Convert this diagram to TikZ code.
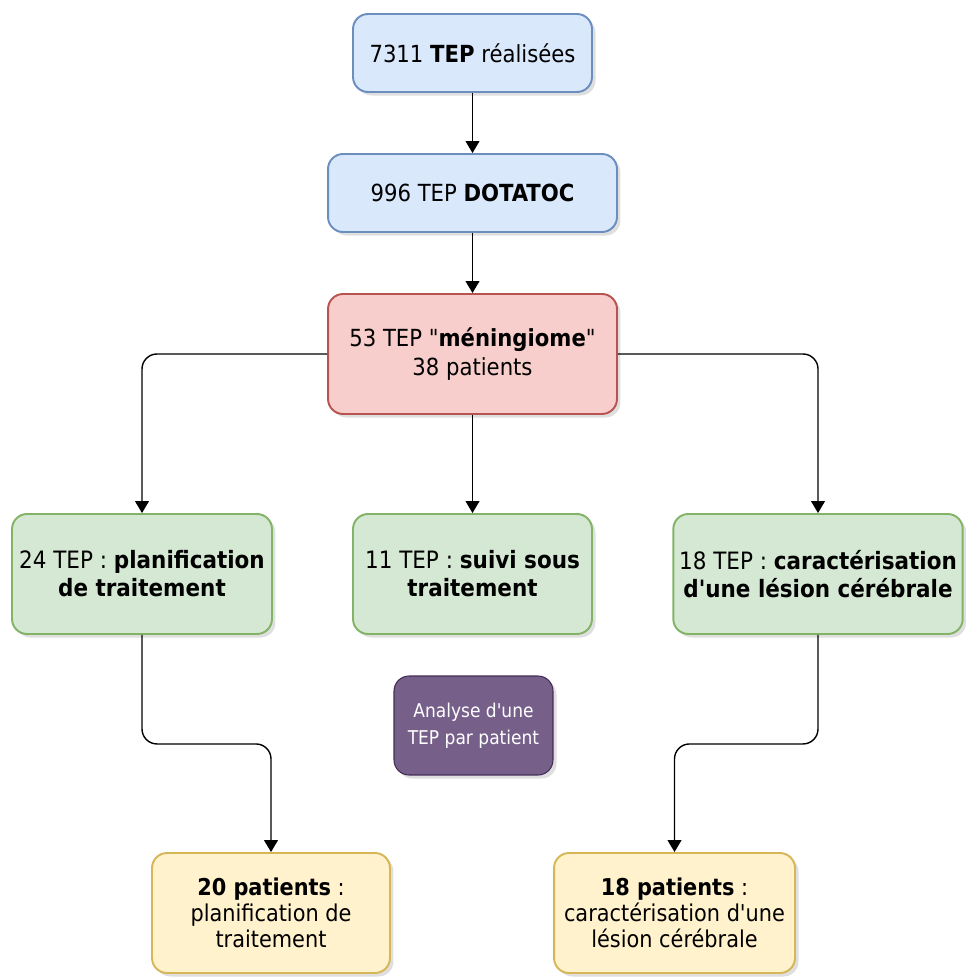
\documentclass[tikz,border=0pt]{standalone}
\usepackage{fontspec}
\setmainfont{DejaVu Sans Condensed}
\usetikzlibrary{arrows.meta,shadows}
\tikzset{>/.tip={Triangle[scale=1.4]}}
\definecolor{blueFill}{HTML}{DAE8FC}
\definecolor{blueLine}{HTML}{6C8EBF}
\definecolor{redFill}{HTML}{F8CECC}
\definecolor{redLine}{HTML}{B85450}
\definecolor{greenFill}{HTML}{D5E8D4}
\definecolor{greenLine}{HTML}{82B366}
\definecolor{purpleFill}{HTML}{76608A}
\definecolor{purpleLine}{HTML}{432D57}
\definecolor{yellowFill}{HTML}{FFF2CC}
\definecolor{yellowLine}{HTML}{D6B656}
\tikzset{
  box/.style={draw, line width=1.1pt, rounded corners=0.3cm, align=center,
    minimum height=2.4cm, drop shadow={shadow xshift=2pt, shadow yshift=-2pt, opacity=0.25}},
  bluebox/.style={box, fill=blueFill, draw=blueLine, minimum height=1.56cm, font=\fontsize{13.4}{16.5}\selectfont},
  redbox/.style={box, fill=redFill, draw=redLine, font=\fontsize{13.4}{17}\selectfont},
  greenbox/.style={box, fill=greenFill, draw=greenLine, font=\fontsize{13.6}{16}\selectfont},
  purplebox/.style={box, fill=purpleFill, draw=purpleLine, text=white, line width=0.6pt,
    minimum height=1.98cm, minimum width=3.18cm, font=\fontsize{10.8}{15.3}\selectfont},
  yellowbox/.style={box, fill=yellowFill, draw=yellowLine, font=\fontsize{13.2}{14.8}\selectfont},
  link/.style={->, line width=0.8pt, rounded corners=0.3cm}
}

\begin{document}
\begin{tikzpicture}[x=0.02cm, y=-0.02cm]
\useasboundingbox (0,0) rectangle (965,979);

\node[bluebox, minimum width=4.78cm] (pet) at (472.5,53) {7311 \textbf{TEP} réalisées};
\node[bluebox, minimum width=5.78cm] (dota) at (472.5,193) {996 TEP \textbf{DOTATOC}};
\node[redbox, minimum width=5.78cm] (menin) at (472.5,354) {53 TEP \textquotedbl\textbf{méningiome}\textquotedbl\\38 patients};

\node[greenbox, minimum width=5.2cm] (plan) at (142,574) {24 TEP : \textbf{planification}\\\textbf{de traitement}};
\node[greenbox, minimum width=4.78cm] (suivi) at (472.5,574) {11 TEP : \textbf{suivi sous}\\\textbf{traitement}};
\node[greenbox, minimum width=5.76cm] (carac) at (818,574) {18 TEP : \textbf{caractérisation}\\\textbf{d\textquotesingle une lésion cérébrale}};

\node[purplebox] (note) at (473.5,725.5) {Analyse d\textquotesingle une\\TEP par patient};

\node[yellowbox, minimum width=4.76cm] (planpat) at (271,913) {\textbf{20 patients} :\\planification de\\traitement};
\node[yellowbox, minimum width=4.82cm] (caracpat) at (674.5,913) {\textbf{18 patients} :\\caractérisation d\textquotesingle une\\lésion cérébrale};

\draw[link] (pet) to (dota);
\draw[link] (dota) to (menin);
\draw[link] (menin.west) -| (plan.north);
\draw[link] (menin) to (suivi);
\draw[link] (menin.east) -| (carac.north);
\draw[link] (plan.south) -- ++(0,109) -| (planpat.north);
\draw[link] (carac.south) -- ++(0,109) -| (caracpat.north);
\end{tikzpicture}
\end{document}
